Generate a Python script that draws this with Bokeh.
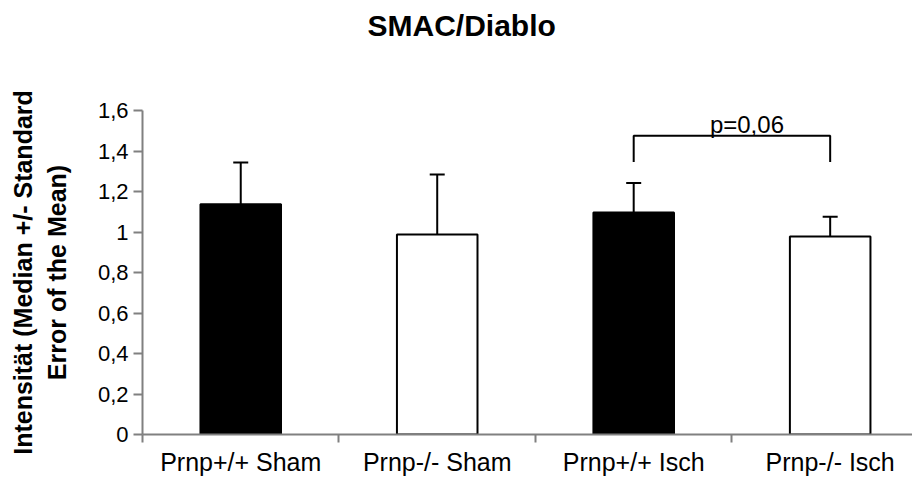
from bokeh.plotting import figure
from bokeh.models import Range1d, FixedTicker, ColumnDataSource, Whisker, TeeHead, Title
from bokeh.core.properties import value
from bokeh.embed import file_html
from bokeh.resources import INLINE

# ---- data ----
categories = ["Prnp+/+ Sham", "Prnp-/- Sham", "Prnp+/+ Isch", "Prnp-/- Isch"]
medians = [1.137, 0.988, 1.096, 0.978]
error_tops = [1.343, 1.284, 1.242, 1.075]
filled = [True, False, True, False]
y_ticks = [0, 0.2, 0.4, 0.6, 0.8, 1.0, 1.2, 1.4, 1.6]
y_tick_labels = ["0", "0,2", "0,4", "0,6", "0,8", "1", "1,2", "1,4", "1,6"]
bracket_pair = [2, 3]          # indices of compared groups
bracket_low, bracket_high = 1.346, 1.475
p_text = "p=0,06"
title_text = "SMAC/Diablo"
y_label = "Intensität (Median +/- Standard\nError of the Mean)"

FONT = "Liberation Sans"
AXIS_GRAY = "#808080"

centers = [i + 0.5 for i in range(len(categories))]
boundaries = [float(i) for i in range(len(categories))]

p = figure(width=912, height=484, output_backend="svg", toolbar_location=None,
           title=title_text,
           x_range=Range1d(0, 3.919), y_range=Range1d(0, 1.6),
           min_border_left=142, min_border_right=0, min_border_top=110,
           min_border_bottom=50)
p.outline_line_color = None
p.xgrid.visible = False
p.ygrid.visible = False
p.background_fill_color = "white"
p.border_fill_color = "white"

# spacer between the frame and the title
p.add_layout(Title(text=" ", text_font_size="10px", standoff=56), "above")

p.title.align = "left"
p.title.offset = 225
p.title.standoff = 0
p.title.text_font = FONT
p.title.text_font_size = "30px"
p.title.text_font_style = "bold"
p.title.text_color = "black"

src = ColumnDataSource(dict(
    x=centers, top=medians, upper=error_tops,
    fill=["black" if f else "white" for f in filled],
))
p.vbar(x="x", top="top", width=0.41, bottom=0, source=src,
       fill_color="fill", line_color="black", line_width=2)

w = Whisker(base="x", lower="top", upper="upper", source=src,
            upper_head=TeeHead(size=15, line_width=2, line_color="black"),
            lower_head=None, line_width=2, line_color="black", level="overlay")
p.add_layout(w)

# significance bracket
bx0, bx1 = centers[bracket_pair[0]], centers[bracket_pair[1]]
p.line(x=[bx0, bx0, bx1, bx1], y=[bracket_low, bracket_high, bracket_high, bracket_low],
       line_color="black", line_width=2)
p.text(x=[(bx0 + bx1) / 2], y=[bracket_high], text=[p_text], x_offset=15, y_offset=-11,
       text_align="center", text_baseline="alphabetic",
       text_font=value(FONT), text_font_size="24px", text_color="black")

# x axis
xa = p.xaxis[0]
xa.ticker = FixedTicker(ticks=centers, minor_ticks=boundaries)
xa.major_label_overrides = {c: lab for c, lab in zip(centers, categories)}
xa.major_tick_out = 0
xa.major_tick_in = 0
xa.major_tick_line_color = None
xa.minor_tick_out = 8
xa.minor_tick_in = 0
xa.minor_tick_line_color = AXIS_GRAY
xa.minor_tick_line_width = 2
xa.axis_line_color = AXIS_GRAY
xa.axis_line_width = 2
xa.major_label_standoff = 5
xa.major_label_text_font = FONT
xa.major_label_text_font_size = "25px"
xa.major_label_text_color = "black"

# y axis
ya = p.yaxis[0]
ya.ticker = FixedTicker(ticks=y_ticks, minor_ticks=[])
ya.major_label_overrides = {t: lab for t, lab in zip(y_ticks, y_tick_labels)}
ya.major_tick_out = 9
ya.major_tick_in = 0
ya.major_tick_line_color = AXIS_GRAY
ya.major_tick_line_width = 2
ya.minor_tick_line_color = None
ya.axis_line_color = AXIS_GRAY
ya.axis_line_width = 2
ya.major_label_standoff = 5
ya.major_label_text_font = FONT
ya.major_label_text_font_size = "22px"
ya.major_label_text_color = "black"
ya.axis_label = y_label
ya.axis_label_text_font = FONT
ya.axis_label_text_font_size = "25px"
ya.axis_label_text_font_style = "bold"
ya.axis_label_text_color = "black"
ya.axis_label_standoff = 24

open("out.html", "w").write(file_html(p, INLINE))
